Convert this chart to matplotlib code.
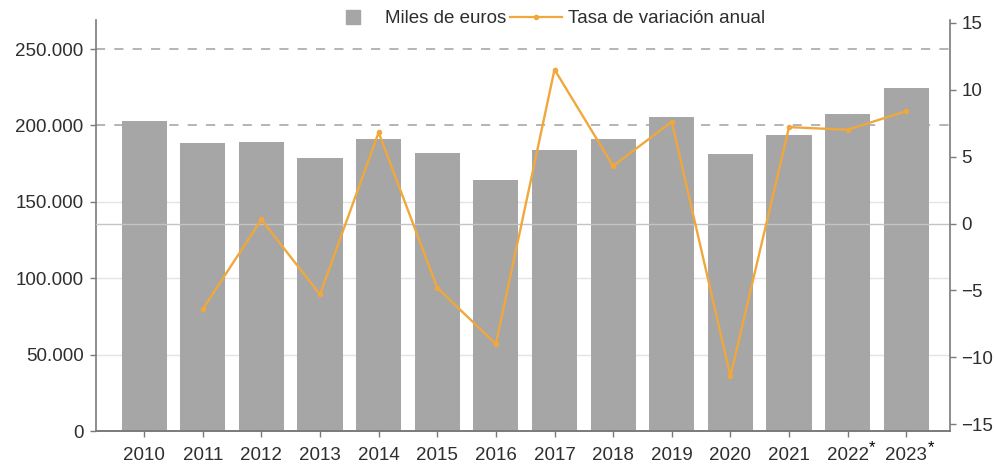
"""
Importe anual (miles de euros) y tasa de variación anual, 2010-2023
Barras en el eje izquierdo, tasa (%) en el eje derecho
"""
import matplotlib
matplotlib.use('Agg')
import matplotlib.pyplot as plt
from matplotlib.lines import Line2D
import numpy as np

plt.rcParams['font.family'] = ['Liberation Sans', 'DejaVu Sans']

# ============================================================================
# DATOS
# ============================================================================
years = ['2010', '2011', '2012', '2013', '2014', '2015', '2016',
         '2017', '2018', '2019', '2020', '2021', '2022*', '2023*']
miles_euros = [203000, 188500, 189000, 179000, 191000, 182000, 164000,
               184000, 191000, 205500, 181000, 194000, 207500, 224500]
tasa_var = [np.nan, -6.4, 0.3, -5.3, 6.8, -4.8, -9.0,
            11.5, 4.3, 7.6, -11.4, 7.2, 7.0, 8.4]

BAR_COLOR = '#a6a6a6'
LINE_COLOR = '#f0a83c'
TEXT_COLOR = '#2e2e2e'
AXIS_COLOR = '#7a7a7a'
FS = 13.5

# ============================================================================
# FIGURA
# ============================================================================
fig = plt.figure(figsize=(9.94, 4.65), dpi=100)
ax = fig.add_axes([0.0966, 0.073, 0.8594, 0.884])
ax2 = ax.twinx()

x = np.arange(len(years))
ax.set_xlim(-0.82, len(years) - 1 + 0.75)
ax.set_ylim(0, 269000)
ax2.set_ylim(-15.5, 15.2)

# rejilla: discontinua arriba, muy tenue abajo
for v in [50000, 100000, 150000]:
    ax.axhline(v, color='#e4e4e4', lw=1, zorder=0)
for v in [200000, 250000]:
    ax.axhline(v, color='#a0a0a0', lw=1.1, ls=(0, (6, 6)), zorder=0)
ax2.axhline(0, color='#c4c4c4', lw=1, zorder=0)

ax.bar(x, miles_euros, width=0.77, color=BAR_COLOR, zorder=2)

ax.set_zorder(1)
ax.patch.set_visible(False)
ax2.set_zorder(2)
ax2.plot(x, tasa_var, color=LINE_COLOR, lw=1.7, marker='o', markersize=3)

# ejes
ax.set_yticks(np.arange(0, 250001, 50000))
ax.set_yticklabels([f'{v:,.0f}'.replace(',', '.') for v in range(0, 250001, 50000)])
ax2.set_yticks(np.arange(-15, 16, 5))
ax.set_xticks(x)
ax.set_xticklabels([y.rstrip('*') for y in years])

for a in (ax, ax2):
    a.spines['top'].set_visible(False)
    for s in a.spines.values():
        s.set_color(AXIS_COLOR)
        s.set_linewidth(1.2)
    a.tick_params(colors=AXIS_COLOR, labelcolor=TEXT_COLOR, labelsize=FS,
                  length=4, width=1)
ax.spines['right'].set_visible(False)
ax2.spines['left'].set_visible(False)
ax.tick_params(axis='x', pad=7.5)
ax.tick_params(axis='y', pad=5)
ax2.tick_params(axis='y', pad=4)

# asteriscos de datos provisionales
for i, y in enumerate(years):
    if y.endswith('*'):
        ax.annotate('*', xy=(i, 0), xytext=(15.5, -12), textcoords='offset points',
                    ha='left', va='center', fontsize=12, color='black',
                    annotation_clip=False)

handles = [
    Line2D([], [], ls='none', marker='s', markersize=10, color=BAR_COLOR),
    Line2D([], [], color=LINE_COLOR, lw=1.6, marker='o', markersize=3),
]
fig.legend(handles=handles, labels=['Miles de euros', 'Tasa de variación anual'],
           loc='center', bbox_to_anchor=(0.549, 0.960), ncol=2, frameon=False,
           fontsize=FS, handlelength=2.8, handletextpad=0.3,
           columnspacing=0.2, labelcolor=TEXT_COLOR)

fig.savefig('out.png', dpi=100)
